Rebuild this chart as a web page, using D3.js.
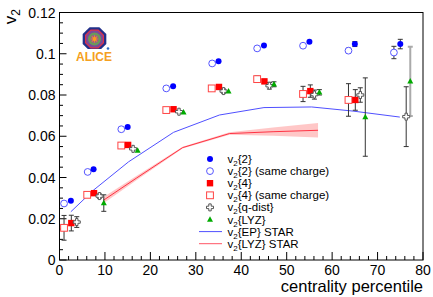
<!DOCTYPE html>
<html>
<head>
<meta charset="utf-8">
<script src="https://cdn.jsdelivr.net/npm/d3@7"></script>
<style>
  body { margin: 0; background: #fff; }
  svg { display: block; font-family: "Liberation Sans", Arial, Helvetica, sans-serif; }
</style>
</head>
<body>
<div id="chart"></div>
<script>
// v2{2}
const v22X = [2.5, 7.5, 15, 25, 35, 45, 55, 65, 75];
const v22Y = [0.0287, 0.0440, 0.0645, 0.0842, 0.0964, 0.1040, 0.1058, 0.1047, 0.1047];
const v22Err = [0.0004, 0.0004, 0.0004, 0.0004, 0.0005, 0.0006, 0.0008, 0.0012, 0.0023];
// v2{2} same charge
const v22scX = [1.0, 6.2, 13.6, 23.5, 33.6, 43.5, 53.6, 63.6, 73.6];
const v22scY = [0.0274, 0.0427, 0.0634, 0.0832, 0.0953, 0.1026, 0.1039, 0.1015, 0.1006];
const v22scErr = [0.0004, 0.0004, 0.0004, 0.0004, 0.0005, 0.0006, 0.0008, 0.0012, 0.0030];
// v2{4}
const v24X = [2.6, 7.6, 15.1, 25.1, 35.1, 45.1, 55.2, 65.1];
const v24Y = [0.0179, 0.0324, 0.0558, 0.0731, 0.0839, 0.0866, 0.0819, 0.0776];
const v24Err = [0.0038, 0.0010, 0.0005, 0.0005, 0.0008, 0.0010, 0.0030, 0.0050];
// v2{4} same charge
const v24scX = [1.0, 6.1, 13.6, 23.5, 33.5, 43.5, 53.6, 63.6];
const v24scY = [0.0156, 0.0316, 0.0555, 0.0727, 0.0832, 0.0877, 0.0805, 0.0776];
const v24scErr = [0.0060, 0.0010, 0.0005, 0.0007, 0.0010, 0.0015, 0.0037, 0.0079];
// v2{q-dist}
const qX = [3.8, 8.8, 16.2, 26.3, 36.1, 46.2, 56.1, 66.2, 76.3];
const qY = [0.0184, 0.0310, 0.0539, 0.0719, 0.0819, 0.0845, 0.0802, 0.0800, 0.0695];
const qErr = [0.0026, 0.0010, 0.0005, 0.0005, 0.0010, 0.0016, 0.0022, 0.0035, 0.0145];
// v2{LYZ}
const lyzX = [9.75, 17.2, 27.3, 37.2, 47.2, 57.2, 67.3, 77.2];
const lyzY = [0.0276, 0.0531, 0.0716, 0.0818, 0.0852, 0.0813, 0.0693, 0.0866];
const lyzErr = [0.0040, 0.0004, 0.0004, 0.0005, 0.0012, 0.0013, 0.0190, 0.0168];
// STAR curves
const starEpX = [2.5, 7.5, 15.2, 25.1, 35.2, 45, 55.5, 64.6, 74.9];
const starEpY = [0.0234, 0.0339, 0.0476, 0.0619, 0.0703, 0.0739, 0.0742, 0.0722, 0.0693];
const starLyzX = [9.7, 17, 27.1, 37.4, 47, 56.9];
const starLyzY = [0.0290, 0.0398, 0.0545, 0.0613, 0.0622, 0.0629];
const starLyzBand = [0.0015, 0.0010, 0.0004, 0.0006, 0.0020, 0.0035];

const xTicks = [0, 10, 20, 30, 40, 50, 60, 70, 80];
const yTicks = [0, 0.02, 0.04, 0.06, 0.08, 0.1, 0.12];
const yTickLabels = ["0", "0.02", "0.04", "0.06", "0.08", "0.1", "0.12"];

const width = 433, height = 297;
const margin = { top: 12.5, right: 10, bottom: 37, left: 59.5 };

const svg = d3.select("#chart").append("svg")
    .attr("width", width)
    .attr("height", height);

svg.append("rect").attr("width", width).attr("height", height).attr("fill", "#fff");

const x = d3.scaleLinear().domain([0, 80]).range([margin.left, width - margin.right]);
const y = d3.scaleLinear().domain([0, 0.12]).range([height - margin.bottom, margin.top]);

// frame
svg.append("rect")
    .attr("x", x(0)).attr("y", y(0.12))
    .attr("width", x(80) - x(0)).attr("height", y(0) - y(0.12))
    .attr("fill", "none").attr("stroke", "#000").attr("stroke-width", 1);

// ticks (inside, ROOT style)
const ax = svg.append("g").attr("stroke", "#000").attr("stroke-width", 1);
d3.range(0, 80.01, 2).forEach(v => {
    const len = v % 10 === 0 ? 8 : 4;
    ax.append("line").attr("x1", x(v)).attr("x2", x(v)).attr("y1", y(0)).attr("y2", y(0) - len);
});
d3.range(0, 0.12001, 0.005).forEach(v => {
    const major = Math.abs(v / 0.02 - Math.round(v / 0.02)) < 1e-6;
    ax.append("line").attr("x1", x(0)).attr("x2", x(0) + (major ? 7 : 3.5)).attr("y1", y(v)).attr("y2", y(v));
});

svg.selectAll(".xlab").data(xTicks).enter().append("text")
    .attr("x", d => x(d)).attr("y", y(0) + 15)
    .attr("text-anchor", "middle").style("font-size", "14px")
    .text(d => d);

svg.selectAll(".ylab").data(yTicks).enter().append("text")
    .attr("x", x(0) - 4).attr("y", d => y(d) + 5)
    .attr("text-anchor", "end").style("font-size", "14px")
    .text((d, i) => yTickLabels[i]);

svg.append("text")
    .attr("x", x(80)).attr("y", 292)
    .attr("text-anchor", "end").style("font-size", "16.5px")
    .text("centrality percentile");

const yt = svg.append("text")
    .attr("transform", "translate(15.5, 9) rotate(-90)")
    .attr("text-anchor", "end").style("font-size", "17px");
yt.append("tspan").text("v");
yt.append("tspan").attr("dy", 4).style("font-size", "12px").text("2");

// STAR LYZ band + lines
const lyzData = starLyzX.map((v, i) => ({ x: v, y: starLyzY[i], b: starLyzBand[i] }));
svg.append("path").datum(lyzData)
    .attr("fill", "#ff9999").attr("fill-opacity", 0.55)
    .attr("d", d3.area().x(d => x(d.x)).y0(d => y(d.y - d.b)).y1(d => y(d.y + d.b)));
svg.append("path").datum(lyzData)
    .attr("fill", "none").attr("stroke", "#ff3344").attr("stroke-width", 1)
    .attr("d", d3.line().x(d => x(d.x)).y(d => y(d.y)));
svg.append("path").datum(starEpX.map((v, i) => ({ x: v, y: starEpY[i] })))
    .attr("fill", "none").attr("stroke", "#5050ff").attr("stroke-width", 1)
    .attr("d", d3.line().x(d => x(d.x)).y(d => y(d.y)));

// error bars
function errBars(xs, ys, es, color, w) {
    const g = svg.append("g").attr("stroke", color).attr("stroke-width", w);
    xs.forEach((v, i) => {
        if (es[i] < 0.0009) return;
        const cx = x(v), y1 = y(ys[i] - es[i]), y2 = y(ys[i] + es[i]);
        g.append("line").attr("x1", cx).attr("x2", cx).attr("y1", y1).attr("y2", y2);
        g.append("line").attr("x1", cx - 2.5).attr("x2", cx + 2.5).attr("y1", y1).attr("y2", y1);
        g.append("line").attr("x1", cx - 2.5).attr("x2", cx + 2.5).attr("y1", y2).attr("y2", y2);
    });
}
errBars(v22X, v22Y, v22Err, "#333", 1);
errBars(v22scX, v22scY, v22scErr, "#333", 1);
errBars(v24X, v24Y, v24Err, "#333", 1);
errBars(v24scX, v24scY, v24scErr, "#333", 1);
errBars(qX, qY, qErr, "#333", 1);
errBars(lyzX.slice(0, 7), lyzY.slice(0, 7), lyzErr.slice(0, 7), "#333", 1);
errBars(lyzX.slice(7), lyzY.slice(7), lyzErr.slice(7), "#aaa", 2);

// marker drawing
const crossPath = "M-1.2,-3.5H1.2V-1.2H3.5V1.2H1.2V3.5H-1.2V1.2H-3.5V-1.2H-1.2Z";
const markers = {
    fcircle: g => g.append("circle").attr("r", 3).attr("fill", "#0000ff"),
    ocircle: g => g.append("circle").attr("r", 3.4).attr("fill", "#fff").attr("stroke", "#5555ff").attr("stroke-width", 1),
    fsquare: g => g.append("rect").attr("x", -3.2).attr("y", -3.2).attr("width", 6.4).attr("height", 6.4).attr("fill", "#ff0000"),
    osquare: g => g.append("rect").attr("x", -3.4).attr("y", -3.4).attr("width", 6.8).attr("height", 6.8).attr("fill", "#fff").attr("stroke", "#ff4444").attr("stroke-width", 1),
    cross: g => g.append("path").attr("d", crossPath).attr("fill", "#fff").attr("stroke", "#555").attr("stroke-width", 1),
    tri: g => g.append("path").attr("d", "M0,-3.3L3,2.2H-3Z").attr("fill", "#00aa00")
};
function drawSeries(xs, ys, kind) {
    xs.forEach((v, i) => {
        const g = svg.append("g").attr("transform", `translate(${x(v)},${y(ys[i])})`);
        markers[kind](g);
    });
}
drawSeries(v22scX, v22scY, "ocircle");
drawSeries(v22X, v22Y, "fcircle");
drawSeries(v24scX, v24scY, "osquare");
drawSeries(v24X, v24Y, "fsquare");
drawSeries(qX, qY, "cross");
drawSeries(lyzX, lyzY, "tri");

// legend
const legendItems = [
    { kind: "fcircle", label: "{2}" },
    { kind: "ocircle", label: "{2} (same charge)" },
    { kind: "fsquare", label: "{4}" },
    { kind: "osquare", label: "{4} (same charge)" },
    { kind: "cross", label: "{q-dist}" },
    { kind: "tri", label: "{LYZ}" },
    { kind: "line", color: "#5050ff", label: "{EP} STAR" },
    { kind: "line", color: "#ff5566", label: "{LYZ} STAR" }
];
const legend = svg.append("g").style("font-size", "11.5px");
legendItems.forEach((d, i) => {
    const ly = 159 + i * 12.1;
    const g = legend.append("g").attr("transform", `translate(210,${ly})`);
    if (d.kind === "line") {
        g.append("line").attr("x1", -11).attr("x2", 12).attr("y1", 0).attr("y2", 0)
            .attr("stroke", d.color).attr("stroke-width", 1);
    } else {
        markers[d.kind](g);
    }
    const t = legend.append("text").attr("x", 227.5).attr("y", ly + 4);
    t.append("tspan").text("v");
    t.append("tspan").attr("dy", 3).style("font-size", "8px").text("2");
    t.append("tspan").attr("dy", -3).text(d.label);
});

// ALICE logo
const logo = svg.append("g").attr("transform", "translate(94.5,39)");
const oct = r => d3.range(8).map(k => {
    const a = Math.PI / 8 + k * Math.PI / 4;
    return [r * Math.cos(a), r * Math.sin(a)];
});
logo.append("polygon").attr("points", oct(12.8).join(" ")).attr("fill", "#22308a");
logo.append("polygon").attr("points", oct(10.3).join(" ")).attr("fill", "#e0304a");
logo.append("polygon").attr("points", oct(9).join(" ")).attr("fill", "#7a4a9a");
logo.append("circle").attr("r", 6.5).attr("fill", "#6a9a5a");
logo.append("circle").attr("r", 4).attr("fill", "#a05a8a");
logo.append("path")
    .attr("d", d3.range(16).map(k => {
        const a = k * Math.PI / 8, r = k % 2 ? 1.6 : 4.5;
        return (k ? "L" : "M") + (r * Math.cos(a)).toFixed(2) + "," + (r * Math.sin(a)).toFixed(2);
    }).join("") + "Z")
    .attr("fill", "#ff9a1a");
logo.append("rect").attr("x", -14).attr("y", 10).attr("width", 28).attr("height", 4).attr("fill", "#fff");
logo.append("text").attr("x", -0.5).attr("y", 21.5).attr("text-anchor", "middle")
    .style("font-size", "12px").style("font-weight", "bold").attr("fill", "#f5a020")
    .text("ALICE");
logo.append("circle").attr("cx", 13.5).attr("cy", 9.5).attr("r", 1.3).attr("fill", "#2b6cc4");
</script>
</body>
</html>
